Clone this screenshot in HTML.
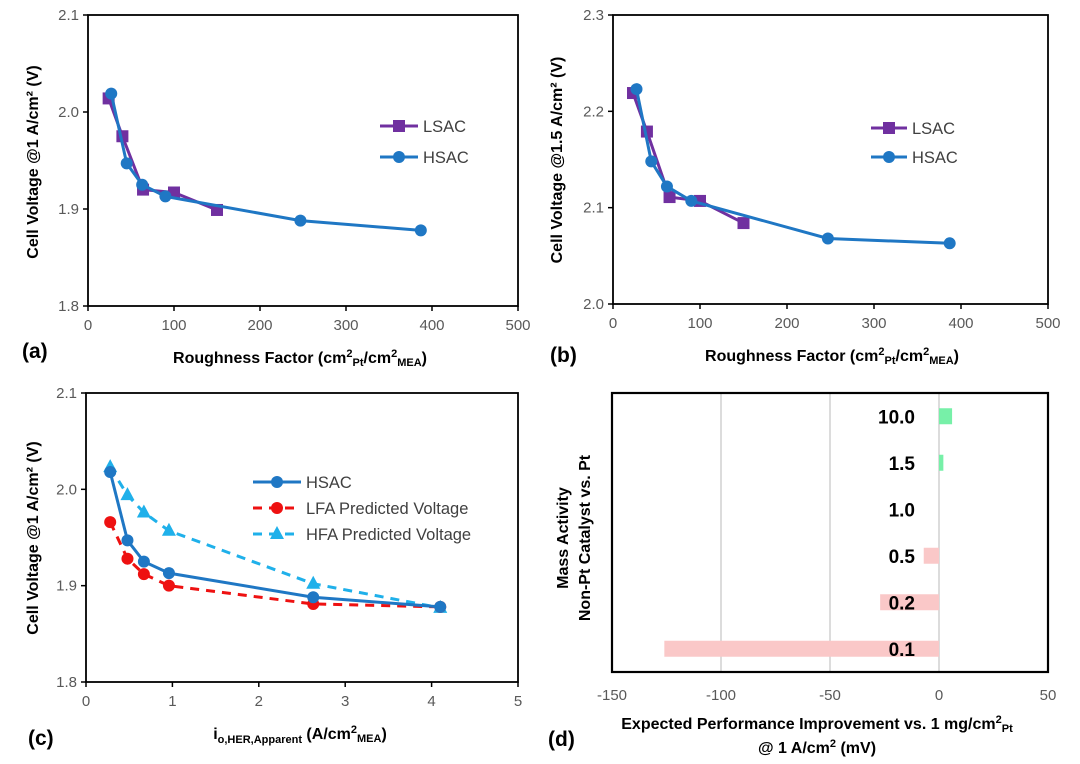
<!DOCTYPE html>
<html><head><meta charset="utf-8"><style>
body{margin:0;background:#fff;}
svg{display:block;font-family:"Liberation Sans",Arial,sans-serif;}
.tick{font-size:15px;fill:#595959;}
.ttl{font-size:16px;font-weight:bold;fill:#000;}
.lg{font-size:16.5px;fill:#404040;}
.pl{font-size:21px;font-weight:bold;fill:#000;}
</style></head><body>
<svg id="c" width="1080" height="764">
<text class="pl" x="22" y="358">(a)</text>
<text class="pl" x="550" y="362">(b)</text>
<text class="pl" x="28" y="745">(c)</text>
<text class="pl" x="548" y="746">(d)</text>
<text class="ttl" x="300" y="363" text-anchor="middle">Roughness Factor (cm<tspan font-size="11" dy="-6">2</tspan><tspan font-size="11" dy="9">Pt</tspan><tspan dy="-3">/cm</tspan><tspan font-size="11" dy="-6">2</tspan><tspan font-size="11" dy="9">MEA</tspan><tspan dy="-3">)</tspan></text>
<text class="ttl" x="832" y="361" text-anchor="middle">Roughness Factor (cm<tspan font-size="11" dy="-6">2</tspan><tspan font-size="11" dy="9">Pt</tspan><tspan dy="-3">/cm</tspan><tspan font-size="11" dy="-6">2</tspan><tspan font-size="11" dy="9">MEA</tspan><tspan dy="-3">)</tspan></text>
<text class="ttl" x="300" y="739" text-anchor="middle">i<tspan font-size="11" dy="4">o,HER,Apparent</tspan><tspan dy="-4"> (A/cm</tspan><tspan font-size="11" dy="-6">2</tspan><tspan font-size="11" dy="9">MEA</tspan><tspan dy="-3">)</tspan></text>
<text class="ttl" x="817" y="729" text-anchor="middle">Expected Performance Improvement vs. 1 mg/cm<tspan font-size="11" dy="-6">2</tspan><tspan font-size="11" dy="9">Pt</tspan></text>
<text class="ttl" x="817" y="753" text-anchor="middle">@ 1 A/cm<tspan font-size="11" dy="-6">2</tspan><tspan dy="6"> (mV)</tspan></text>
<text class="ttl" transform="translate(38,162) rotate(-90)" text-anchor="middle">Cell Voltage @1 A/cm² (V)</text>
<text class="ttl" transform="translate(562,160) rotate(-90)" text-anchor="middle">Cell Voltage @1.5 A/cm² (V)</text>
<text class="ttl" transform="translate(38,538) rotate(-90)" text-anchor="middle">Cell Voltage @1 A/cm² (V)</text>
<text class="ttl" transform="translate(568,538) rotate(-90)" text-anchor="middle">Mass Activity</text>
<text class="ttl" transform="translate(590,538) rotate(-90)" text-anchor="middle">Non-Pt Catalyst vs. Pt</text>
</svg>
<script>
const aLsacX=[24,40,64,100,150], aLsacY=[2.014,1.975,1.920,1.917,1.899];
const aHsacX=[27,45,63,90,247,387], aHsacY=[2.019,1.947,1.925,1.913,1.888,1.878];
const bLsacX=[23,39,65,100,150], bLsacY=[2.219,2.179,2.111,2.107,2.084];
const bHsacX=[27,44,62,90,247,387], bHsacY=[2.223,2.148,2.122,2.107,2.068,2.063];
const cX=[0.28,0.48,0.67,0.96,2.63,4.1];
const cHsacY=[2.018,1.947,1.925,1.913,1.888,1.878];
const cLfaY=[1.966,1.928,1.912,1.900,1.881,1.878];
const cHfaY=[2.023,1.994,1.976,1.957,1.902,1.877];
const dCats=['10.0','1.5','1.0','0.5','0.2','0.1'];
const dVals=[6,2,0,-7,-27,-126];
const xTicksAB=[0,100,200,300,400,500], xTicksC=[0,1,2,3,4,5], xTicksD=[-150,-100,-50,0,50];
const yTicksA=[1.8,1.9,2.0,2.1], yTicksB=[2.0,2.1,2.2,2.3];
const NS='http://www.w3.org/2000/svg', svg=document.getElementById('c');
function mk(t,a){const e=document.createElementNS(NS,t);for(const k in a)e.setAttribute(k,a[k]);svg.appendChild(e);return e;}
function axes(L,R,T,B,x0,x1,y0,y1,xt,yt,fmtY,name){
 const sx=v=>L+(v-x0)/(x1-x0)*(R-L), sy=v=>B-(v-y0)/(y1-y0)*(B-T);
 const f=mk('rect',{x:L,y:T,width:R-L,height:B-T,fill:'none',stroke:'#000','stroke-width':1.8});
 
 
 xt.forEach(v=>{const t=mk('text',{x:sx(v),y:B+24,'text-anchor':'middle',class:'tick'});t.textContent=v;
  
  
  mk('line',{x1:sx(v),x2:sx(v),y1:B,y2:B+5,stroke:'#000','stroke-width':1.5});});
 yt.forEach(v=>{const t=mk('text',{x:L-9,y:sy(v)+5,'text-anchor':'end',class:'tick'});t.textContent=fmtY(v);
  
  
  mk('line',{x1:L-5,x2:L,y1:sy(v),y2:sy(v),stroke:'#000','stroke-width':1.5});});
 return [sx,sy];
}
function marker(type,x,y,col){
 if(type==='sq')return mk('rect',{x:x-6,y:y-6,width:12,height:12,fill:col});
 if(type==='ci')return mk('circle',{cx:x,cy:y,r:6,fill:col});
 return mk('polygon',{points:`${x},${y-8} ${x+7},${y+5} ${x-7},${y+5}`,fill:col});
}
function series(sx,sy,xs,ys,col,type,dash,name){
 const p=mk('polyline',{points:xs.map((x,i)=>sx(x)+','+sy(ys[i])).join(' '),fill:'none',stroke:col,'stroke-width':3,'stroke-dasharray':dash||'none'});
 
 
 xs.forEach((x,i)=>{const m=marker(type,sx(x),sy(ys[i]),col);
  
  });
}
function legend(x,x2,y,col,type,dash,label,name){
 const l=mk('line',{x1:x,x2:x2,y1:y,y2:y,stroke:col,'stroke-width':3,'stroke-dasharray':dash||'none'});
 
 
 marker(type,(x+x2)/2,y,col);
 const t=mk('text',{x:x2+5,y:y+6,class:'lg'});t.textContent=label;
 
 
}
const PU='#7030a0', BL='#1f77c4', RD='#ee1111', LB='#1fb0ea';
let s=axes(88,518,15,306,0,500,1.8,2.1,xTicksAB,yTicksA,v=>v.toFixed(1),'panel-a');
series(s[0],s[1],aLsacX,aLsacY,PU,'sq','','a-lsac');
series(s[0],s[1],aHsacX,aHsacY,BL,'ci','','a-hsac');
legend(380,418,126,PU,'sq','','LSAC','a-lsac');legend(380,418,157,BL,'ci','','HSAC','a-hsac');
s=axes(613,1048,15,304,0,500,2.0,2.3,xTicksAB,yTicksB,v=>v.toFixed(1),'panel-b');
series(s[0],s[1],bLsacX,bLsacY,PU,'sq','','b-lsac');
series(s[0],s[1],bHsacX,bHsacY,BL,'ci','','b-hsac');
legend(871,907,128,PU,'sq','','LSAC','b-lsac');legend(871,907,157,BL,'ci','','HSAC','b-hsac');
s=axes(86,518,393,682,0,5,1.8,2.1,xTicksC,yTicksA,v=>v.toFixed(1),'panel-c');
series(s[0],s[1],cX,cHfaY,LB,'tr','9,7','c-hfa');
series(s[0],s[1],cX,cLfaY,RD,'ci','9,7','c-lfa');
series(s[0],s[1],cX,cHsacY,BL,'ci','','c-hsac');
legend(253,301,482,BL,'ci','','HSAC','c-hsac');legend(253,301,508,RD,'ci','9,7','LFA Predicted Voltage','c-lfa');legend(253,301,534,LB,'tr','9,7','HFA Predicted Voltage','c-hfa');
// panel d
const dL=612,dR=1048,dT=393,dB=672, dsx=v=>dL+(v+150)/200*(dR-dL);
xTicksD.forEach(v=>{ if(v>-150&&v<50){const g=mk('line',{x1:dsx(v),x2:dsx(v),y1:dT,y2:dB,stroke:'#d0d0d0','stroke-width':1.5});
 
 }
 const t=mk('text',{x:dsx(v),y:dB+28,'text-anchor':'middle',class:'tick'});t.textContent=v;
 
 });
const band=(dB-dT)/dCats.length;
dCats.forEach((c,i)=>{const cy=dT+band*(i+0.5), v=dVals[i];
 const x0=Math.min(dsx(0),dsx(v)), w=Math.abs(dsx(v)-dsx(0));
 const b=mk('rect',{x:x0,y:cy-8,width:w,height:16,fill:v>0?'#77f0a8':'#fac8c8'});
 
 
 const t=mk('text',{x:915,y:cy+7,'text-anchor':'end','font-size':'19','font-weight':'bold'});t.textContent=c;
 
 });
const fr=mk('rect',{x:dL,y:dT,width:dR-dL,height:dB-dT,fill:'none',stroke:'#000','stroke-width':2.2});


</script>
</body></html>
